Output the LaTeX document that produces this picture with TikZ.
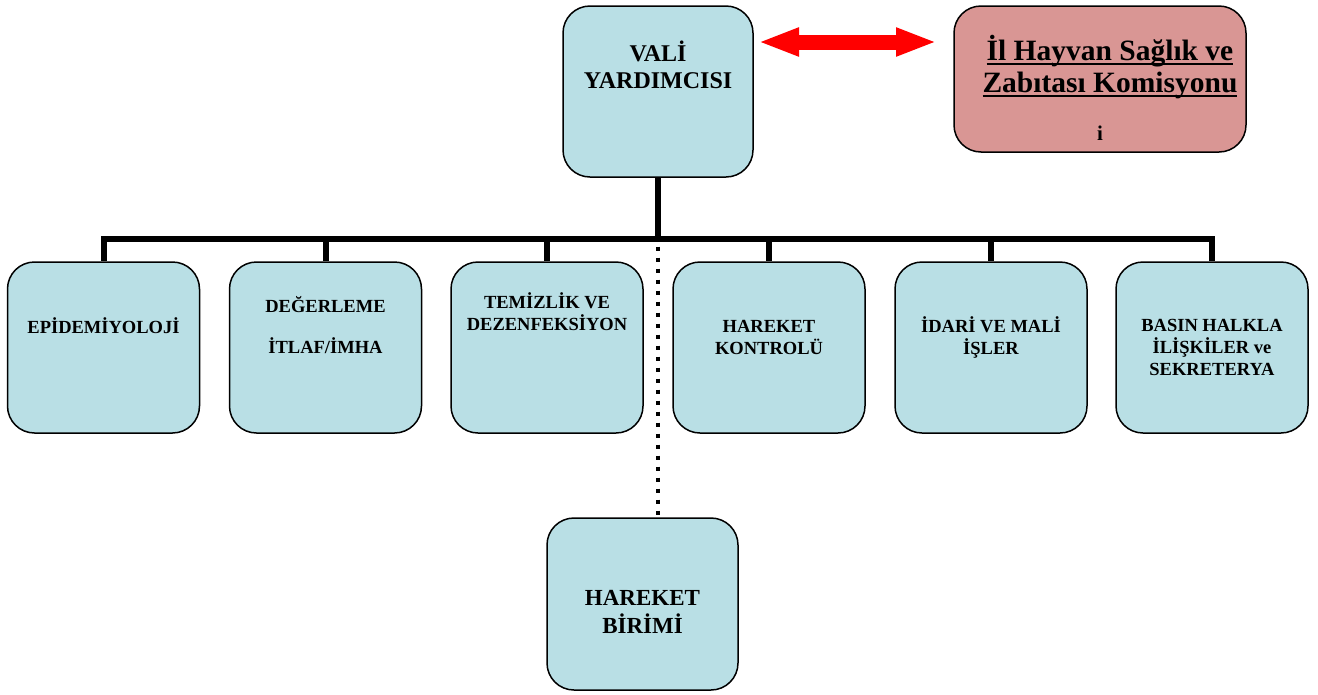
\documentclass[tikz,border=0pt]{standalone}
\usepackage{fontspec}
\setmainfont{Liberation Serif}
\usetikzlibrary{arrows.meta}
\definecolor{acikmavi}{HTML}{B9DFE5}
\definecolor{pembe}{HTML}{D99694}
\newcommand{\altciz}[1]{\setbox0\hbox{#1}\rlap{\rule[-5pt]{\wd0}{2pt}}\box0}
\tikzset{
  kutu/.style={draw, line width=1.5pt, fill=acikmavi, rounded corners=27pt,
    minimum width=192pt, minimum height=171pt, inner sep=0pt},
  yazi/.style={align=center, anchor=base, inner sep=0pt,
    font=\bfseries\fontsize{18.5}{22}\selectfont},
  hat/.style={line width=6pt},
  nokta/.style={line width=4.5pt, dash pattern=on 4.5pt off 6.5pt, dash phase=3.3pt},
  okcift/.style={red, line width=15pt,
    arrows={Triangle[length=41pt,width=26pt]-Triangle[length=41pt,width=26pt]}}
}
\begin{document}
\begin{tikzpicture}[x=1pt,y=-1pt]
    \useasboundingbox (0,0) rectangle (1318,694);
    % kutular
    \node[kutu, minimum width=190pt] (vali) at (658,91.5) {};
    \node[kutu, fill=pembe, minimum width=292pt, minimum height=146pt] (kom) at (1100,79) {};
    \node[kutu] (epi) at (103.5,347.5) {};
    \node[kutu] (deg) at (325.5,347.5) {};
    \node[kutu] (tem) at (547,347.5) {};
    \node[kutu] (hk) at (769,347.5) {};
    \node[kutu] (idari) at (991,347.5) {};
    \node[kutu] (basin) at (1212,347.5) {};
    \node[kutu, minimum width=191pt, minimum height=172pt] (hb) at (642.5,604) {};
    % yazilar (base = son satir)
    \node[yazi, font=\bfseries\fontsize{24}{27}\selectfont] at (658,88) {VALİ\\YARDIMCISI};
    \node[yazi, font=\bfseries\fontsize{29.5}{32}\selectfont] at (1110,92)
        {\altciz{İl Hayvan Sağlık ve}\\\altciz{Zabıtası Komisyonu}};
    \node[yazi, font=\bfseries\fontsize{21}{24}\selectfont] at (1100,140) {i};
    \node[yazi] at (103.5,333) {EPİDEMİYOLOJİ};
    \node[yazi] at (325.5,353) {DEĞERLEME\\[19pt]İTLAF/İMHA};
    \node[yazi] at (547,330) {TEMİZLİK VE\\DEZENFEKSİYON};
    \node[yazi] at (769,354) {HAREKET\\KONTROLÜ};
    \node[yazi] at (991,354) {İDARİ VE MALİ\\İŞLER};
    \node[yazi] at (1212,375) {BASIN HALKLA\\İLİŞKİLER ve\\SEKRETERYA};
    \node[yazi, font=\bfseries\fontsize{23}{28}\selectfont] at (642.5,633) {HAREKET\\BİRİMİ};
    % baglantilar
    \coordinate (bar) at (658,239);
    \draw[hat] (vali) -- (bar);
    \foreach \k in {epi,deg,tem,hk,idari,basin}
        \draw[hat] (bar) -| (\k);
    \draw[nokta] (bar) -- (bar |- hb.north);
    \coordinate (okL) at (758,42);
    \coordinate (okR) at (937,42);
    \draw[okcift] (okL) -- (okR);
\end{tikzpicture}
\end{document}
